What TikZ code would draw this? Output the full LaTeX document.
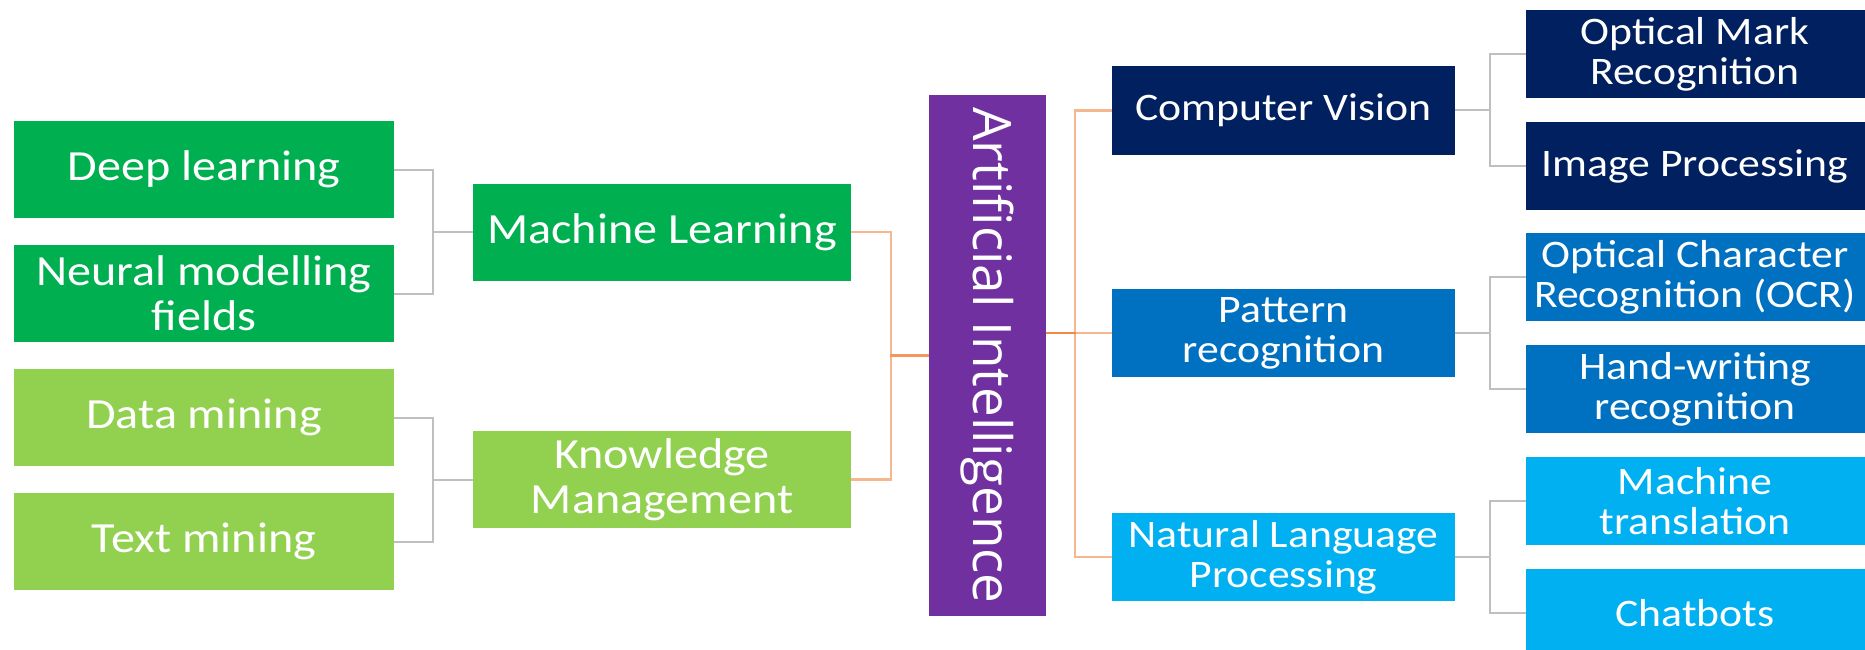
\documentclass[tikz,border=0pt]{standalone}
\usepackage{fontspec}
\setmainfont{Carlito}[FakeStretch=1.12]
\newfontfamily\aifont{Open Sans}
\usetikzlibrary{calc}
\tikzset{
    % Colors
    ml color/.style={fill={rgb,255:red,0;green,176;blue,80}},
    km color/.style={fill={rgb,255:red,146;green,208;blue,80}},
    ai color/.style={fill={rgb,255:red,112;green,48;blue,160}},
    cv color/.style={fill={rgb,255:red,0;green,32;blue,96}},
    pr color/.style={fill={rgb,255:red,0;green,112;blue,192}},
    nlp color/.style={fill={rgb,255:red,0;green,176;blue,240}},
    %
    % Boxes
    box/.style={text=white,align=center,inner sep=0pt,outer sep=0pt},
    leaf box/.style={box,minimum width=380pt,minimum height=97pt,font=\fontsize{43}{45}\selectfont},
    branch box/.style={box,minimum width=378pt,minimum height=97pt,font=\fontsize{43}{45}\selectfont},
    area box/.style={box,minimum width=343pt,minimum height=88pt,font=\fontsize{39}{40}\selectfont},
    task box/.style={box,minimum width=339pt,minimum height=88pt,font=\fontsize{39}{40}\selectfont},
    %
    % Connectors
    ai link/.style={draw={rgb,255:red,237;green,125;blue,49},draw opacity=.55,line width=2.5pt},
    sub link/.style={draw={rgb,255:red,191;green,191;blue,191},line width=2pt},
}

\begin{document}
\begin{tikzpicture}[x=1pt,y=-1pt]
    \useasboundingbox (0,0) rectangle (1865,650);
    % left side
    \node[leaf box,ml color] (dl) at (204,169.5) {Deep learning};
    \node[leaf box,ml color] (nmf) at (204,293.5) {Neural modelling\\fields};
    \node[leaf box,km color] (dm) at (204,417.5) {Data mining};
    \node[leaf box,km color] (tm) at (204,541.5) {Text mining};
    \node[branch box,ml color] (ml) at (662,232) {Machine Learning};
    \node[branch box,km color] (km) at (662,479.5) {Knowledge\\Management};
    % centre
    \node[box,ai color,minimum width=520pt,minimum height=117pt,rotate=-90,
        font=\aifont\fontsize{53}{60}\selectfont] (ai) at (987.5,355.5) {Artificial Intelligence};
    % right side
    \node[area box,cv color] (cv) at (1283.5,110.5) {Computer Vision};
    \node[area box,pr color] (pr) at (1283.5,333) {Pattern\\recognition};
    \node[area box,nlp color] (nlp) at (1283.5,557) {Natural Language\\Processing};
    \node[task box,cv color] (omr) at (1695,54.5) {Optical Mark\\Recognition};
    \node[task box,cv color] (ip) at (1695,166) {Image Processing};
    \node[task box,pr color] (ocr) at (1695,277) {Optical Character\\Recognition (OCR)};
    \node[task box,pr color] (hw) at (1695,389) {Hand-writing\\recognition};
    \node[task box,nlp color] (mt) at (1695,501) {Machine\\translation};
    \node[task box,nlp color] (cb) at (1695,613) {Chatbots};

    \draw[sub link] (dl.east) -- ++(39,0) |- (ml.west);
    \draw[sub link] (nmf.east) -- ++(39,0) |- (ml.west);
    \draw[sub link] (dm.east) -- ++(39,0) |- (km.west);
    \draw[sub link] (tm.east) -- ++(39,0) |- (km.west);
    \draw[ai link] (ml.east) -- ++(40,0) |- (ai.south);
    \draw[ai link] (km.east) -- ++(40,0) |- (ai.south);
    \draw[ai link] (ai.north |- pr.west) -- ++(29,0) |- (cv.west);
    \draw[ai link] (ai.north |- pr.west) -- (pr.west);
    \draw[ai link] (ai.north |- pr.west) -- ++(29,0) |- (nlp.west);
    \draw[sub link] (cv.east) -- ++(35,0) |- (omr.west);
    \draw[sub link] (cv.east) -- ++(35,0) |- (ip.west);
    \draw[sub link] (pr.east) -- ++(35,0) |- (ocr.west);
    \draw[sub link] (pr.east) -- ++(35,0) |- (hw.west);
    \draw[sub link] (nlp.east) -- ++(35,0) |- (mt.west);
    \draw[sub link] (nlp.east) -- ++(35,0) |- (cb.west);
\end{tikzpicture}
\end{document}
